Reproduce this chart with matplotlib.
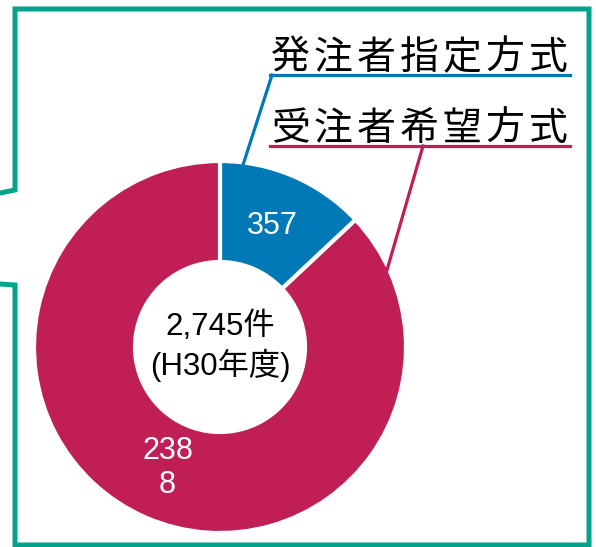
import matplotlib
matplotlib.use("Agg")
import matplotlib.pyplot as plt
from matplotlib.lines import Line2D

# ---- data ----
categories = ["発注者指定方式", "受注者希望方式"]
values = [357, 2388]
value_labels = ["357", "238\n8"]
center_text = "2,745件\n(H30年度)"
colors = ["#0079B6", "#C01F55"]
frame_color = "#00A48B"

W, H = 596, 547
fig = plt.figure(figsize=(W / 100, H / 100), dpi=100)
ax = fig.add_axes([0, 0, 1, 1])

def Y(y):
    return H - y

cx, cy = 220, Y(347)
R_out, R_in = 186, 85

wedges, texts = ax.pie(
    values, colors=colors, labels=value_labels, labeldistance=132 / R_out,
    startangle=90, counterclock=False, radius=R_out, center=(cx, cy),
    wedgeprops=dict(width=R_out - R_in, edgecolor="white", linewidth=3),
    textprops=dict(color="white", fontsize=22, family=["Liberation Sans"],
                   ha="center", va="center", linespacing=1.15),
)

ax.text(cx, cy, center_text, ha="center", va="center", fontsize=22.5,
        family=["Liberation Sans", "Noto Sans CJK JP"], linespacing=1.25,
        color="black")

# frame (callout shape)
fx = [0, 15, 15, 589, 589, 15, 15, 0]
fy = [193, 190, 9, 9, 545, 545, 285, 284]
ax.add_line(Line2D(fx, [Y(v) for v in fy], color=frame_color, lw=3.6,
                   solid_joinstyle="miter"))

# category labels with underline and leader lines
label_y = [58, 129]
under_y = [75, 146]
leader_start = [(272, 75), (423, 146)]
leader_end = [(243, 165), (387, 270)]
pitch = 43.0
for i, cat in enumerate(categories):
    for j, ch in enumerate(cat):
        ax.text(290 + pitch * j, Y(label_y[i]), ch, ha="center", va="center",
                fontsize=28, family=["Noto Sans CJK JP"], weight="normal",
                color="black")
    ax.add_line(Line2D([270, 570], [Y(under_y[i])] * 2, color=colors[i], lw=2.3))
    ax.add_line(Line2D([leader_start[i][0], leader_end[i][0]],
                       [Y(leader_start[i][1]), Y(leader_end[i][1])],
                       color=colors[i], lw=2.3))

ax.set_xlim(0, W)
ax.set_ylim(0, H)
ax.set_aspect("auto")
ax.axis("off")
fig.savefig("out.png", dpi=100)
